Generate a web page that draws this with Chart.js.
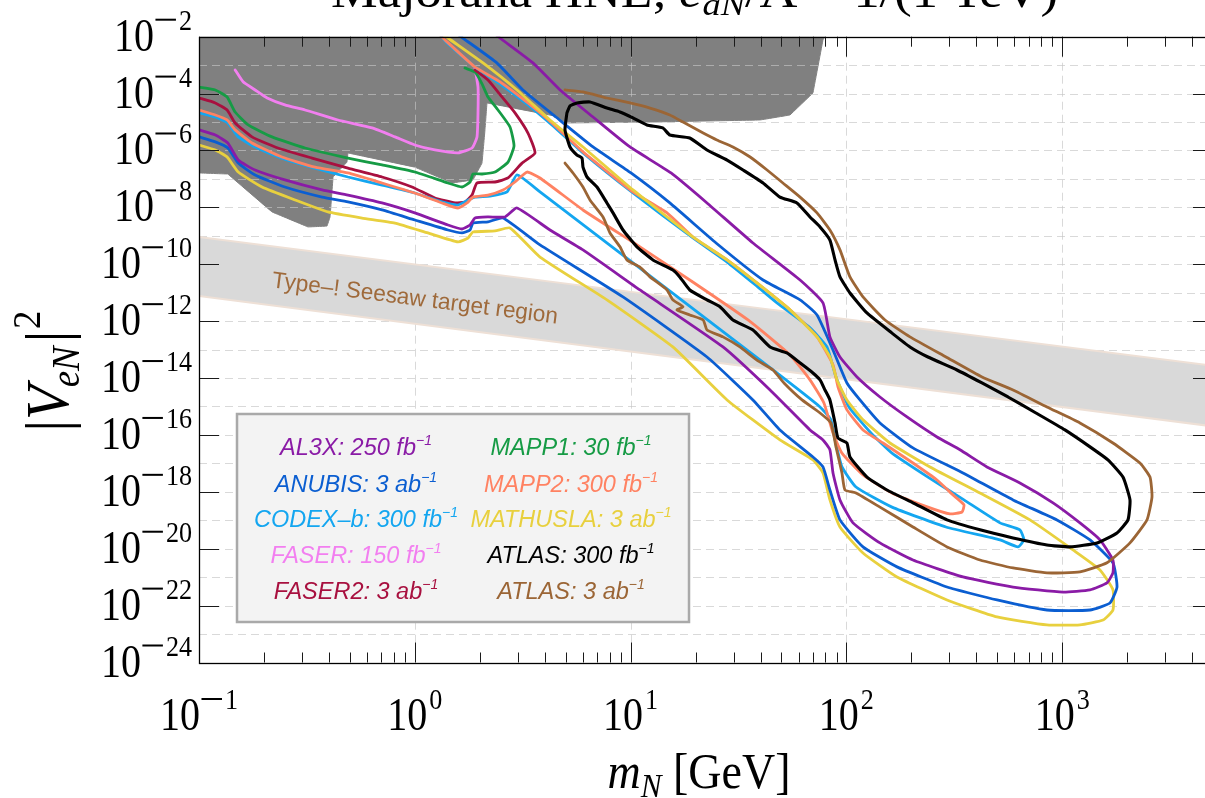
<!DOCTYPE html>
<html>
<head>
<meta charset="utf-8">
<title>HNL sensitivity</title>
<script src="https://cdn.jsdelivr.net/npm/chart.js@4.4.1/dist/chart.umd.min.js"></script>
<style>
  html, body { margin: 0; padding: 0; overflow: hidden; background: #ffffff; }
  canvas { display: block; }
</style>
</head>
<body>
<canvas id="c" width="1213" height="798"></canvas>
<script>
// ---- Sensitivity contours: [m_N in GeV, |V_eN|^2] ----
const al3x = [[0.1,5.3e-6],[0.119,3.5e-6],[0.136,1.84e-6],[0.152,4.6e-7],[0.182,2.06e-7],[0.25,9.2e-8],[0.372,4.1e-8],[0.49,2.7e-8],[0.705,1.43e-8],[1.0,6.4e-9],[1.425,2.4e-9],[1.655,1.74e-9],[1.803,2.4e-9],[1.901,4.2e-9],[2.184,4.6e-9],[2.618,4.6e-9],[2.976,9.5e-9],[4.232,1.6e-9],[6.018,3.2e-10],[11.05,1.25e-11],[26.8,1.24e-13],[44.3,3.8e-15],[67.8,1.5e-16],[77.9,6.7e-17],[83.9,3.0e-17],[86.7,4.6e-18],[93.4,5.2e-19],[107.3,8.1e-20],[143.1,1.6e-20],[203.5,4.0e-21],[347,1.02e-21],[592,4.5e-22],[1009,3.0e-22],[1346,3.6e-22],[1613,6.3e-22],[1719,1.41e-21],[1719,4.0e-21],[1497,2.04e-20],[1209,8.1e-20],[907,4.1e-19],[637,2.05e-18],[448,7.5e-18],[336,3.0e-17],[263,8.5e-17],[190.9,4.3e-16],[143.1,2.16e-15],[112,1.09e-14],[93.4,5.5e-14],[83.9,2.8e-13],[77.9,4.4e-12],[61.0,2.8e-11],[36.9,5.6e-10],[22.6,1.43e-8],[15.4,1.62e-7],[9.94,1.33e-6],[6.70,1.5e-5],[4.71,1.34e-4],[3.529,1.2e-3],[2.482,9.0e-3],[2.30,1.46e-2]];

const anubis = [[0.1,3.0e-6],[0.119,2.0e-6],[0.136,1.22e-6],[0.152,3.6e-7],[0.182,1.38e-7],[0.25,5.2e-8],[0.372,2.3e-8],[0.49,1.55e-8],[0.705,8.1e-9],[1.0,3.6e-9],[1.425,1.6e-9],[1.655,1.26e-9],[1.803,1.6e-9],[1.861,2.8e-9],[2.184,3.1e-9],[2.563,4.2e-9],[3.804,4.8e-10],[9.22,7.1e-12],[22.6,5.5e-14],[36.9,1.7e-15],[49.2,1.5e-16],[70.0,1.68e-17],[77.9,7.5e-18],[83.9,1.16e-18],[93.4,1.03e-19],[119.4,1.16e-20],[171.6,2.3e-21],[292.6,4.5e-22],[499,1.58e-22],[850,7.0e-23],[1346,7.0e-23],[1665,1.24e-22],[1795,4.5e-22],[1719,3.2e-21],[1346,2.04e-20],[946,1.03e-19],[592,5.2e-19],[347,4.6e-18],[203.5,3.5e-17],[143.1,2.64e-16],[115.6,1.7e-15],[100.6,6.7e-15],[86.7,9.7e-14],[73.1,1.65e-12],[61.0,5.6e-12],[41.1,2.8e-11],[24.9,5.6e-10],[15.2,1.43e-8],[10.04,1.62e-7],[6.70,1.33e-6],[4.51,1.5e-5],[3.17,1.34e-4],[2.40,1.2e-3],[1.67,9.0e-3],[1.536,1.46e-2]];

const codexB = [[0.1,2.1e-5],[0.119,1.5e-5],[0.136,9.3e-6],[0.152,3.0e-6],[0.182,1.33e-6],[0.242,5.4e-7],[0.345,2.4e-7],[0.49,1.17e-7],[0.705,6.1e-8],[1.0,3.2e-8],[1.337,1.55e-8],[1.586,1.21e-8],[1.765,1.82e-8],[1.901,2.3e-8],[2.231,2.5e-8],[2.675,3.5e-8],[2.976,1.38e-7],[3.804,3.5e-8],[10.26,1.11e-10],[45.7,1.92e-14],[75.5,9.6e-16],[84.8,3.4e-16],[88.6,6.7e-17],[95.4,7.5e-18],[110.8,1.48e-18],[162.7,2.9e-19],[289.5,5.8e-20],[515,2.04e-20],[624,1.16e-20],[665,2.04e-20],[637,4.6e-20],[515,8.1e-20],[350.7,5.2e-19],[238.8,3.3e-18],[162.7,2.3e-17],[130,1.17e-16],[102.8,9.6e-16],[89.5,1.09e-14],[81.3,1.24e-13],[67.1,6.3e-13],[47.7,4.4e-12],[38.5,1.7e-11],[28.0,1.2e-10],[19.45,8.4e-10],[10.26,3.2e-8],[6.018,8.2e-7],[4.32,7.9e-6],[3.346,4.0e-5],[2.482,2.2e-4],[1.901,8.6e-4],[1.41,6.0e-3],[1.28,1.46e-2]];

const faser = [[0.147,6.8e-4],[0.160,2.6e-4],[0.182,1.34e-4],[0.207,7.0e-5],[0.25,4.0e-5],[0.31,2.65e-5],[0.44,1.18e-5],[0.634,6.2e-6],[0.809,3.0e-6],[1.0,1.56e-6],[1.24,1.04e-6],[1.586,8.2e-7],[1.842,1.22e-6],[1.942,3.0e-6],[1.963,2.1e-5],[1.963,1.7e-4],[1.901,7.9e-4]];

const faser2 = [[0.1,7.0e-5],[0.119,4.7e-5],[0.135,2.65e-5],[0.147,9.3e-6],[0.176,3.0e-6],[0.232,1.22e-6],[0.334,5.4e-7],[0.49,2.4e-7],[0.705,1.17e-7],[0.971,5.2e-8],[1.24,2.14e-8],[1.536,1.43e-8],[1.709,1.55e-8],[1.842,2.7e-8],[1.942,7.2e-8],[2.353,7.8e-8],[2.704,1.08e-7],[3.139,3.6e-7],[3.606,8.2e-7],[3.346,4.1e-6],[2.913,2.1e-5],[2.536,7.6e-5],[2.184,3.0e-4],[1.901,6.8e-4]];

const mapp1 = [[0.1,1.7e-4],[0.119,1.34e-4],[0.135,7.6e-5],[0.147,2.25e-5],[0.169,7.9e-6],[0.218,3.0e-6],[0.31,1.22e-6],[0.49,5.4e-7],[0.705,3.1e-7],[1.0,1.75e-7],[1.425,7.2e-8],[1.655,5.2e-8],[1.803,7.8e-8],[1.861,1.49e-7],[2.049,1.49e-7],[2.353,1.75e-7],[2.704,3.9e-7],[2.883,1.44e-6],[2.762,6.7e-6],[2.43,2.65e-5],[2.184,7.6e-5],[2.049,2.2e-4],[1.901,5.7e-4],[1.709,7.9e-4]];

const mapp2 = [[0.1,2.65e-5],[0.119,1.77e-5],[0.135,1.18e-5],[0.147,5.3e-6],[0.176,1.84e-6],[0.242,5.9e-7],[0.345,2.6e-7],[0.49,1.62e-7],[0.705,7.2e-8],[1.0,3.2e-8],[1.337,1.43e-8],[1.586,9.5e-9],[1.746,1.43e-8],[1.861,2.3e-8],[2.184,2.7e-8],[2.563,4.1e-8],[2.913,7.8e-8],[3.311,1.75e-7],[3.804,1.08e-7],[6.018,8.1e-9],[11.05,4.1e-10],[18.8,2.8e-11],[35.0,1.1e-12],[54.8,6.5e-14],[67.8,8.6e-15],[78.7,1.33e-15],[86.7,1.17e-16],[95.4,2.3e-17],[119.4,3.9e-18],[162.7,9.1e-19],[238.8,2.9e-19],[302,1.67e-19],[343.4,1.96e-19],[350.7,3.5e-19],[312,7.8e-19],[263,2.6e-18],[203.5,1.03e-17],[147.8,5.2e-17],[119.4,1.5e-16],[100.6,7.6e-16],[91.4,4.9e-15],[86.7,2.9e-14],[73.1,2.8e-13],[54.8,2.5e-12],[38.5,2.2e-11],[28.0,1.42e-10],[19.45,9.1e-10],[14.75,6.4e-9],[10.26,3.5e-8],[6.018,8.9e-7],[4.32,9.3e-6],[3.346,4.7e-5],[2.482,2.6e-4],[1.901,8.6e-4],[1.38,7.7e-3],[1.24,1.7e-2]];

const mathusla = [[0.1,1.56e-6],[0.119,1.04e-6],[0.135,5.9e-7],[0.152,1.75e-7],[0.196,5.2e-8],[0.279,1.82e-8],[0.396,6.9e-9],[0.569,4.2e-9],[0.809,2.8e-9],[1.15,1.26e-9],[1.586,6.1e-10],[1.765,8.4e-10],[1.861,1.36e-9],[2.353,1.48e-9],[2.762,1.89e-9],[3.804,1.8e-10],[7.77,5.6e-12],[15.7,1.24e-13],[28.0,1.7e-15],[49.2,6.7e-17],[70.0,1.32e-17],[77.9,4.6e-18],[83.9,5.2e-19],[93.4,5.8e-20],[119.4,7.1e-21],[171.6,1.02e-21],[292.6,1.58e-22],[499,4.0e-23],[850,2.1e-23],[1209,2.1e-23],[1546,3.1e-23],[1719,7.0e-23],[1719,3.6e-22],[1497,1.8e-21],[1122,9.1e-21],[709,1.03e-19],[416,9.1e-19],[244,7.5e-18],[159.2,5.2e-17],[119.4,3.4e-16],[100.6,1.7e-15],[90.5,8.6e-15],[83.9,5.5e-14],[73.1,2.8e-13],[54.8,2.5e-12],[38.5,2.2e-11],[28.0,1.42e-10],[19.45,9.1e-10],[10.26,4.1e-8],[6.018,1.33e-6],[4.232,1.18e-5],[2.976,1.34e-4],[2.07,1.2e-3],[1.425,9.0e-3],[1.31,1.46e-2]];

const atlas300 = [[5.07,2.1e-5],[5.24,3.7e-5],[5.646,4.7e-5],[6.483,5.1e-5],[7.77,3.1e-5],[8.93,2.25e-5],[10.26,1.39e-5],[11.9,7.9e-6],[14.1,6.2e-6],[15.2,3.5e-6],[18.8,2.75e-6],[22.6,1.04e-6],[28.0,4.6e-7],[33.2,2.06e-7],[41.1,7.2e-8],[49.2,2.3e-8],[59.0,1.43e-8],[67.8,4.6e-9],[75.5,2.05e-9],[83.9,7.1e-10],[88.6,1.42e-10],[93.4,3.6e-11],[103.9,9.8e-12],[124.6,1.94e-12],[162.7,3.8e-13],[197.1,1.24e-13],[238.8,5.5e-14],[325.5,1.92e-14],[425,6.7e-15],[561,2.16e-15],[756,5.9e-16],[1030,1.5e-16],[1346,3.8e-17],[1630,1.32e-17],[1913,3.3e-18],[2062,5.2e-19],[2018,1.03e-19],[1795,3.6e-20],[1450,1.6e-20],[1087,1.16e-20],[850,1.36e-20],[592,2.4e-20],[416,4.6e-20],[292.6,1.03e-19],[203.5,4.1e-19],[154.2,1.16e-18],[124.6,3.3e-18],[103.9,1.68e-17],[100.6,5.2e-17],[91.4,7.8e-17],[88.6,2.64e-16],[83.9,1.7e-15],[79.6,3.8e-15],[75.5,8.6e-15],[70.0,1.51e-14],[61.0,3.4e-14],[53.0,7.6e-14],[44.3,1.24e-13],[36.9,4.9e-13],[29.8,1.1e-12],[25.95,3.2e-12],[22.6,5.6e-12],[18.8,1.25e-11],[16.9,3.6e-11],[15.7,6.3e-11],[12.7,1.42e-10],[10.7,4.1e-10],[9.22,1.6e-9],[8.29,6.4e-9],[7.77,1.43e-8],[6.988,5.2e-8],[6.28,1.17e-7],[6.018,2.6e-7],[5.955,5.4e-7],[5.646,6.9e-7],[5.24,1.33e-6],[4.966,5.3e-6],[5.07,2.1e-5]];

const atlas3000 = [[4.966,3.6e-7],[5.41,1.62e-7],[6.018,5.2e-8],[6.483,1.82e-8],[7.45,4.6e-9],[8.03,1.26e-9],[8.93,4.1e-10],[9.62,1.42e-10],[11.05,8.0e-11],[12.3,3.6e-11],[14.75,1.25e-11],[15.7,5.6e-12],[17.5,3.2e-12],[16.4,2.5e-12],[18.8,1.65e-12],[21.7,1.1e-12],[22.6,4.9e-13],[26.8,2.8e-13],[32.1,1.24e-13],[38.5,4.3e-14],[45.7,1.92e-14],[51.4,6.7e-15],[62.3,1.7e-15],[75.5,5.9e-16],[84.8,2.64e-16],[89.5,3.8e-17],[95.4,4.6e-18],[98.5,1.16e-18],[110.8,9.1e-19],[143.1,2.9e-19],[203.5,5.8e-20],[292.6,1.16e-20],[416,4.0e-21],[592,2.1e-21],[850,1.41e-21],[1209,1.53e-21],[1613,3.2e-21],[2062,1.6e-20],[2472,1.03e-19],[2608,6.6e-19],[2553,3.3e-18],[2294,1.03e-17],[1719,5.2e-17],[1209,2.64e-16],[850,9.6e-16],[592,3.8e-15],[425,1.09e-14],[289.5,5.5e-14],[197.1,2.8e-13],[151,1.1e-12],[119.4,7.1e-12],[103.9,3.6e-11],[93.4,3.2e-10],[83.9,1.6e-9],[73.1,6.4e-9],[61.0,2.3e-8],[50.8,7.2e-8],[42.9,2.06e-7],[35.8,5.9e-7],[29.8,1.33e-6],[25.1,2.34e-6],[21.7,4.1e-6],[17.5,1.0e-5],[15.2,1.77e-5],[12.3,3.1e-5],[9.94,4.7e-5],[7.77,7.0e-5],[6.018,1.14e-4],[4.966,1.34e-4]];

// Existing limits (shaded) and the Type-I seesaw band
const excludedRegion = [[0.1,1e-2],[79.6,1e-2],[77.9,7.7e-3],[70.0,1.05e-4],[54.8,1.77e-5],[39.8,1.18e-5],[12.3,1.0e-5],[5.07,9.3e-6],[4.46,1.63e-5],[2.16,4.7e-5],[2.115,5.3e-6],[2.049,3.6e-7],[1.861,9.2e-8],[1.49,7.2e-8],[1.0,2.6e-7],[0.49,8.2e-7],[0.485,3.9e-7],[0.418,1.17e-7],[0.405,4.6e-9],[0.392,2.2e-9],[0.32,2.05e-9],[0.218,6.9e-9],[0.136,1.49e-7],[0.1,1.62e-7],[0.1,1e-2]];
const seesawBand = [[0.1,9.1e-10],[5000,2.7e-14],[5000,2.0e-16],[0.1,7.7e-12],[0.1,9.1e-10]];

// Axis ranges and labelled decades
const massRange = [0.1, 5000];
const mixingRange = [1e-24, 1e-2];
const xTickExps = [-1, 0, 1, 2, 3];
const yTickExps = [-2, -4, -6, -8, -10, -12, -14, -16, -18, -20, -22, -24];

// Legend text
const legendNames = ['AL3X', 'ANUBIS', 'CODEX\u2013b', 'FASER', 'FASER2', 'MAPP1', 'MAPP2', 'MATHUSLA', 'ATLAS', 'ATLAS'];
const legendLumis = ['250 fb', '3 ab', '300 fb', '150 fb', '3 ab', '30 fb', '300 fb', '3 ab', '300 fb', '3 ab'];
const bandText = 'Type\u2013! Seesaw target region';

// Styles
const colors = {
  al3x: '#8a1ba6', anubis: '#0b5ed1', codexB: '#14a6f0', faser: '#f27ff0', faser2: '#a8103f',
  mapp1: '#169b45', mapp2: '#ff8262', mathusla: '#e8d03e', atlas300: '#000000', atlas3000: '#9b6535'
};
const legendColors = [colors.al3x, colors.anubis, colors.codexB, colors.faser, colors.faser2,
  colors.mapp1, colors.mapp2, colors.mathusla, colors.atlas300, colors.atlas3000];

const SERIF = '"Liberation Serif", "DejaVu Serif", serif';
const SANS = '"Liberation Sans", Arial, sans-serif';

function curve(label, data, color, width) {
  return { label, data, showLine: true, borderColor: color, borderWidth: width || 2.8,
    borderJoinStyle: 'round', borderCapStyle: 'round',
    pointRadius: 0, fill: false, tension: 0.15, clip: 0, order: 1 };
}

// Draw a row of text pieces (with optional horizontal squeeze and vertical offsets)
function drawRuns(ctx, pieces, x, y, sx, align) {
  let w = 0;
  for (const p of pieces) {
    if (p.minus) { p.w = p.minus; }
    else { ctx.font = p.font; p.w = ctx.measureText(p.text).width * sx; }
    p.w += (p.gap || 0);
    w += p.w;
  }
  let cx = align === 'center' ? x - w / 2 : align === 'right' ? x - w : x;
  for (const p of pieces) {
    if (p.minus) {
      ctx.fillRect(cx + (p.gap || 0) * 0.5, y + p.dy - p.thick / 2, p.minus - (p.gap || 0) * 0.5, p.thick);
    } else {
      ctx.save();
      ctx.font = p.font;
      ctx.translate(cx + (p.pre || 0), y + (p.dy || 0));
      ctx.scale(sx, 1);
      ctx.textAlign = 'left';
      ctx.textBaseline = 'alphabetic';
      ctx.fillText(p.text, 0, 0);
      ctx.restore();
    }
    cx += p.w;
  }
  return w;
}

function powerPieces(e) {
  const pieces = [{ text: '10', font: '46px ' + SERIF }];
  if (e < 0) {
    pieces.push({ minus: 22, thick: 2, dy: -31, gap: 3 });
    pieces.push({ text: String(-e), font: '30px ' + SERIF, dy: -21 });
  } else {
    pieces.push({ text: String(e), font: '30px ' + SERIF, dy: -21, gap: 2, pre: 2 });
  }
  return pieces;
}

function drawGrid(chart) {
  const { ctx, chartArea: a, scales: { x, y } } = chart;
  ctx.save();
  ctx.beginPath();
  ctx.rect(a.left, a.top, a.right - a.left, a.bottom - a.top);
  ctx.clip();
  ctx.strokeStyle = 'rgba(196,196,196,0.65)';
  ctx.lineWidth = 1;
  ctx.setLineDash([8, 5]);
  const lx0 = Math.round(Math.log10(massRange[0])), lx1 = Math.floor(Math.log10(massRange[1]));
  for (let e = lx0 + 1; e <= lx1; e++) {
    const px = Math.round(x.getPixelForValue(Math.pow(10, e))) + 0.5;
    ctx.beginPath(); ctx.moveTo(px, a.top); ctx.lineTo(px, a.bottom); ctx.stroke();
  }
  const ly0 = Math.round(Math.log10(mixingRange[0])), ly1 = Math.round(Math.log10(mixingRange[1]));
  for (let e = ly0 + 1; e < ly1; e++) {
    const py = Math.round(y.getPixelForValue(Math.pow(10, e))) + 0.5;
    ctx.beginPath(); ctx.moveTo(a.left, py); ctx.lineTo(a.right, py); ctx.stroke();
  }
  ctx.restore();
}

function drawBandLabel(chart) {
  const { ctx, scales: { x, y } } = chart;
  const x0 = x.getPixelForValue(seesawBand[0][0]), x1 = x.getPixelForValue(seesawBand[1][0]);
  const t0 = y.getPixelForValue(seesawBand[0][1]), t1 = y.getPixelForValue(seesawBand[1][1]);
  const b0 = y.getPixelForValue(seesawBand[3][1]), b1 = y.getPixelForValue(seesawBand[2][1]);
  const ang = Math.atan2(t1 - t0, x1 - x0);
  const cx = 415;
  const f = (cx - x0) / (x1 - x0);
  const cy = ((t0 + f * (t1 - t0)) + (b0 + f * (b1 - b0))) / 2 + 5;
  ctx.save();
  ctx.translate(cx, cy);
  ctx.rotate(ang);
  ctx.font = '23px ' + SANS;
  ctx.fillStyle = '#9f6a3b';
  ctx.textAlign = 'center';
  ctx.textBaseline = 'middle';
  const w = ctx.measureText(bandText).width;
  ctx.scale(288 / w, 1);
  ctx.fillText(bandText, 0, 0);
  ctx.restore();
}

function drawFrame(chart) {
  const { ctx, chartArea: a, scales: { x, y } } = chart;
  ctx.save();
  ctx.strokeStyle = '#1a1a1a';
  ctx.lineWidth = 1;
  // x ticks, bottom and top
  for (let e = -1; e <= 3; e++) {
    for (let m = 1; m <= 9; m++) {
      const v = m * Math.pow(10, e);
      if (v < massRange[0] || v > massRange[1]) continue;
      const px = Math.round(x.getPixelForValue(v)) + 0.5;
      const len = m === 1 ? 20 : 10;
      ctx.beginPath();
      ctx.moveTo(px, a.bottom); ctx.lineTo(px, a.bottom - len);
      ctx.moveTo(px, a.top); ctx.lineTo(px, a.top + len);
      ctx.stroke();
    }
  }
  // y ticks, left and right
  for (const e of yTickExps) {
    const py = Math.round(y.getPixelForValue(Math.pow(10, e))) + 0.5;
    ctx.beginPath();
    ctx.moveTo(a.left, py); ctx.lineTo(a.left + 20, py);
    ctx.moveTo(a.right, py); ctx.lineTo(a.right - 20, py);
    ctx.stroke();
  }
  // spines
  ctx.strokeStyle = '#000';
  ctx.lineWidth = 1.3;
  ctx.strokeRect(Math.round(a.left) + 0.5, Math.round(a.top) + 0.5, a.right - a.left, Math.round(a.bottom - a.top));
  ctx.restore();
}

function drawLabels(chart) {
  const { ctx, scales: { x, y } } = chart;
  ctx.save();
  ctx.fillStyle = '#000';
  const SX = 0.87;
  for (const e of yTickExps) {
    const py = y.getPixelForValue(Math.pow(10, e));
    drawRuns(ctx, powerPieces(e), 192, py + 14, SX, 'right');
  }
  for (const e of xTickExps) {
    const px = x.getPixelForValue(Math.pow(10, e));
    drawRuns(ctx, powerPieces(e), px, 730, SX, 'center');
  }
  // x axis title
  drawRuns(ctx, [
    { text: 'm', font: 'italic 50px ' + SERIF },
    { text: 'N', font: 'italic 34px ' + SERIF, dy: 9 },
    { text: ' [GeV]', font: '50px ' + SERIF, gap: 4 }
  ], 701, 788, 0.92, 'center');
  // y axis title
  ctx.save();
  ctx.translate(68, 372);
  ctx.rotate(-Math.PI / 2);
  drawRuns(ctx, [
    { text: '|', font: '62px ' + SERIF },
    { text: 'V', font: 'italic 62px ' + SERIF, gap: 2 },
    { text: 'eN', font: 'italic 40px ' + SERIF, dy: 11, pre: -4 },
    { text: '|', font: '62px ' + SERIF },
    { text: '2', font: '40px ' + SERIF, dy: -28, pre: 2 }
  ], 0, 0, 0.92, 'center');
  ctx.restore();
  // plot title (top edge of the figure)
  const titlePieces = [
    { text: 'Majorana HNL, ', font: '46px ' + SERIF },
    { text: 'c', font: 'italic 46px ' + SERIF },
    { text: 'aN', font: 'italic 32px ' + SERIF, dy: 8 },
    { text: '/\u039B = 1/(1 TeV)', font: '46px ' + SERIF }
  ];
  let w = 0;
  for (const p of titlePieces) { ctx.font = p.font; w += ctx.measureText(p.text).width; }
  drawRuns(ctx, titlePieces, 331, 7, 727 / w, 'left');
  ctx.restore();
}

function drawLegend(chart) {
  const ctx = chart.ctx;
  ctx.save();
  ctx.fillStyle = '#f3f3f3';
  ctx.fillRect(237, 414, 452, 208);
  ctx.strokeStyle = '#a9a9a9';
  ctx.lineWidth = 2.5;
  ctx.strokeRect(237, 414, 452, 208);
  const colX = [356, 571];
  const rowY = [455, 491.5, 527, 563, 598.5];
  for (let i = 0; i < legendNames.length; i++) {
    ctx.fillStyle = legendColors[i];
    drawRuns(ctx, [
      { text: legendNames[i] + ': ' + legendLumis[i], font: 'italic 23.5px ' + SANS },
      { text: '\u22121', font: 'italic 14px ' + SANS, dy: -10 }
    ], colX[i < 5 ? 0 : 1], rowY[i % 5], 1, 'center');
  }
  ctx.restore();
}

const decor = {
  id: 'decor',
  afterDatasetDraw(chart, args) {
    const lbl = chart.data.datasets[args.index].label;
    if (lbl === 'Excluded') drawGrid(chart);
    if (lbl === 'Type-I seesaw') drawBandLabel(chart);
  },
  afterDraw(chart) {
    drawFrame(chart);
    drawLabels(chart);
    drawLegend(chart);
  }
};

new Chart(document.getElementById('c'), {
  type: 'scatter',
  data: {
    datasets: [
      curve('ATLAS 300 fb-1', atlas300, colors.atlas300, 3.1),
      curve('ATLAS 3 ab-1', atlas3000, colors.atlas3000),
      curve('AL3X', al3x, colors.al3x),
      curve('ANUBIS', anubis, colors.anubis),
      curve('MATHUSLA', mathusla, colors.mathusla),
      curve('MAPP2', mapp2, colors.mapp2),
      curve('CODEX-b', codexB, colors.codexB),
      curve('FASER2', faser2, colors.faser2),
      curve('MAPP1', mapp1, colors.mapp1),
      curve('FASER', faser, colors.faser),
      { label: 'Type-I seesaw', data: seesawBand, showLine: true, pointRadius: 0, tension: 1e-6,
        borderColor: '#eee0d6', borderWidth: 2, backgroundColor: '#d9d9d9', fill: 'shape', clip: 0, order: 19 },
      { label: 'Excluded', data: excludedRegion, showLine: true, pointRadius: 0, tension: 1e-6,
        borderColor: '#808080', borderWidth: 1, backgroundColor: '#808080', fill: 'shape', clip: 0, order: 20 }
    ]
  },
  options: {
    responsive: false,
    devicePixelRatio: 1,
    animation: false,
    events: [],
    layout: { padding: { left: 199, right: 0, top: 36.7, bottom: 135.5 } },
    scales: {
      x: { type: 'logarithmic', min: massRange[0], max: massRange[1], display: false },
      y: { type: 'logarithmic', min: mixingRange[0], max: mixingRange[1], display: false }
    },
    plugins: { legend: { display: false }, tooltip: { enabled: false } }
  },
  plugins: [decor]
});
</script>
</body>
</html>
